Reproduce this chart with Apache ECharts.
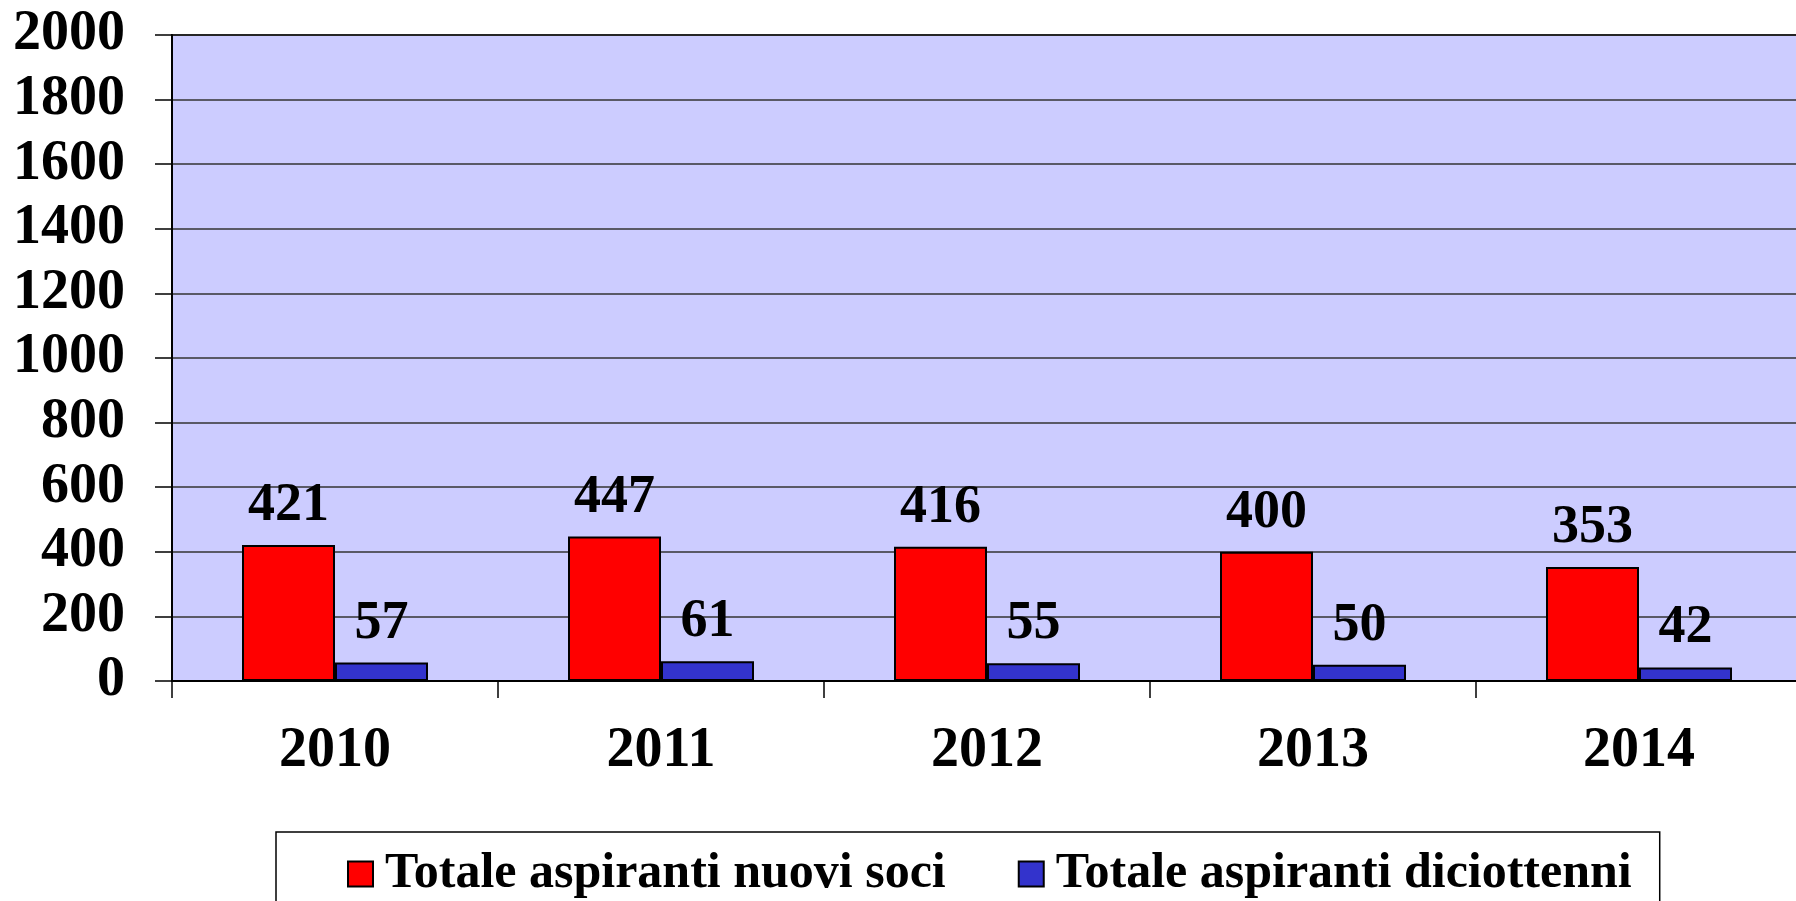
<!DOCTYPE html>
<html>
<head>
<meta charset="utf-8">
<title>Aspiranti soci</title>
<script src="https://cdn.jsdelivr.net/npm/echarts@6/dist/echarts.min.js"></script>
<style>
  html, body { margin: 0; padding: 0; background: #fff; }
  #chart { width: 1796px; height: 901px; }
</style>
</head>
<body>
<div id="chart"></div>
<script>
// data
var years = ['2010', '2011', '2012', '2013', '2014'];
var nuoviSoci = [421, 447, 416, 400, 353];
var diciottenni = [57, 61, 55, 50, 42];
var seriesNames = ['Totale aspiranti nuovi soci', 'Totale aspiranti diciottenni'];

var serif = "'Liberation Serif', 'Times New Roman', serif";

var chartDom = document.getElementById('chart');
var myChart = echarts.init(chartDom);
var option;

function barLabel() {
  return {
    show: true,
    position: 'top',
    distance: 12,
    color: '#000',
    fontFamily: serif,
    fontWeight: 'bold',
    fontSize: 54
  };
}

option = {
  animation: false,
  backgroundColor: '#fff',
  grid: {
    left: 172,
    top: 35,
    right: -6,
    bottom: 220,
    outerBoundsMode: 'none',
    containLabel: false,
    show: true,
    backgroundColor: '#ccccff',
    borderColor: '#000',
    borderWidth: 2
  },
  legend: {
    left: 276,
    top: 832,
    padding: [17, 28, 40, 71],
    borderColor: '#000',
    borderWidth: 1.5,
    itemWidth: 25,
    itemHeight: 25,
    itemGap: 72,
    icon: 'rect',
    itemStyle: { borderColor: '#000', borderWidth: 2 },
    textStyle: {
      color: '#000',
      fontFamily: serif,
      fontWeight: 'bold',
      fontSize: 50,
      padding: [0, 0, 0, 7]
    },
    data: seriesNames
  },
  xAxis: {
    type: 'category',
    data: years,
    axisLine: { lineStyle: { color: '#000', width: 2 } },
    axisTick: { show: true, length: 17, lineStyle: { color: '#000', width: 1.5 } },
    axisLabel: {
      margin: 43,
      color: '#000',
      fontFamily: serif,
      fontWeight: 'bold',
      fontSize: 56
    }
  },
  yAxis: {
    type: 'value',
    min: 0,
    max: 2000,
    interval: 200,
    axisLine: { show: true, lineStyle: { color: '#000', width: 2 } },
    axisTick: { show: true, length: 17, lineStyle: { color: '#000', width: 1.5 } },
    splitLine: { lineStyle: { color: '#333', width: 1.5 } },
    axisLabel: {
      margin: 47,
      color: '#000',
      fontFamily: serif,
      fontWeight: 'bold',
      fontSize: 56,
      formatter: function (v) { return String(v); }
    }
  },
  series: [
    {
      name: seriesNames[0],
      type: 'bar',
      data: nuoviSoci,
      barWidth: 93,
      barGap: '0%',
      itemStyle: { color: '#ff0000', borderColor: '#000', borderWidth: 2 },
      label: barLabel()
    },
    {
      name: seriesNames[1],
      type: 'bar',
      data: diciottenni,
      barWidth: 93,
      barGap: '0%',
      itemStyle: { color: '#3333cc', borderColor: '#000', borderWidth: 2 },
      label: barLabel()
    }
  ]
};

if (option && typeof option === 'object') {
  myChart.setOption(option);
}
</script>
</body>
</html>
